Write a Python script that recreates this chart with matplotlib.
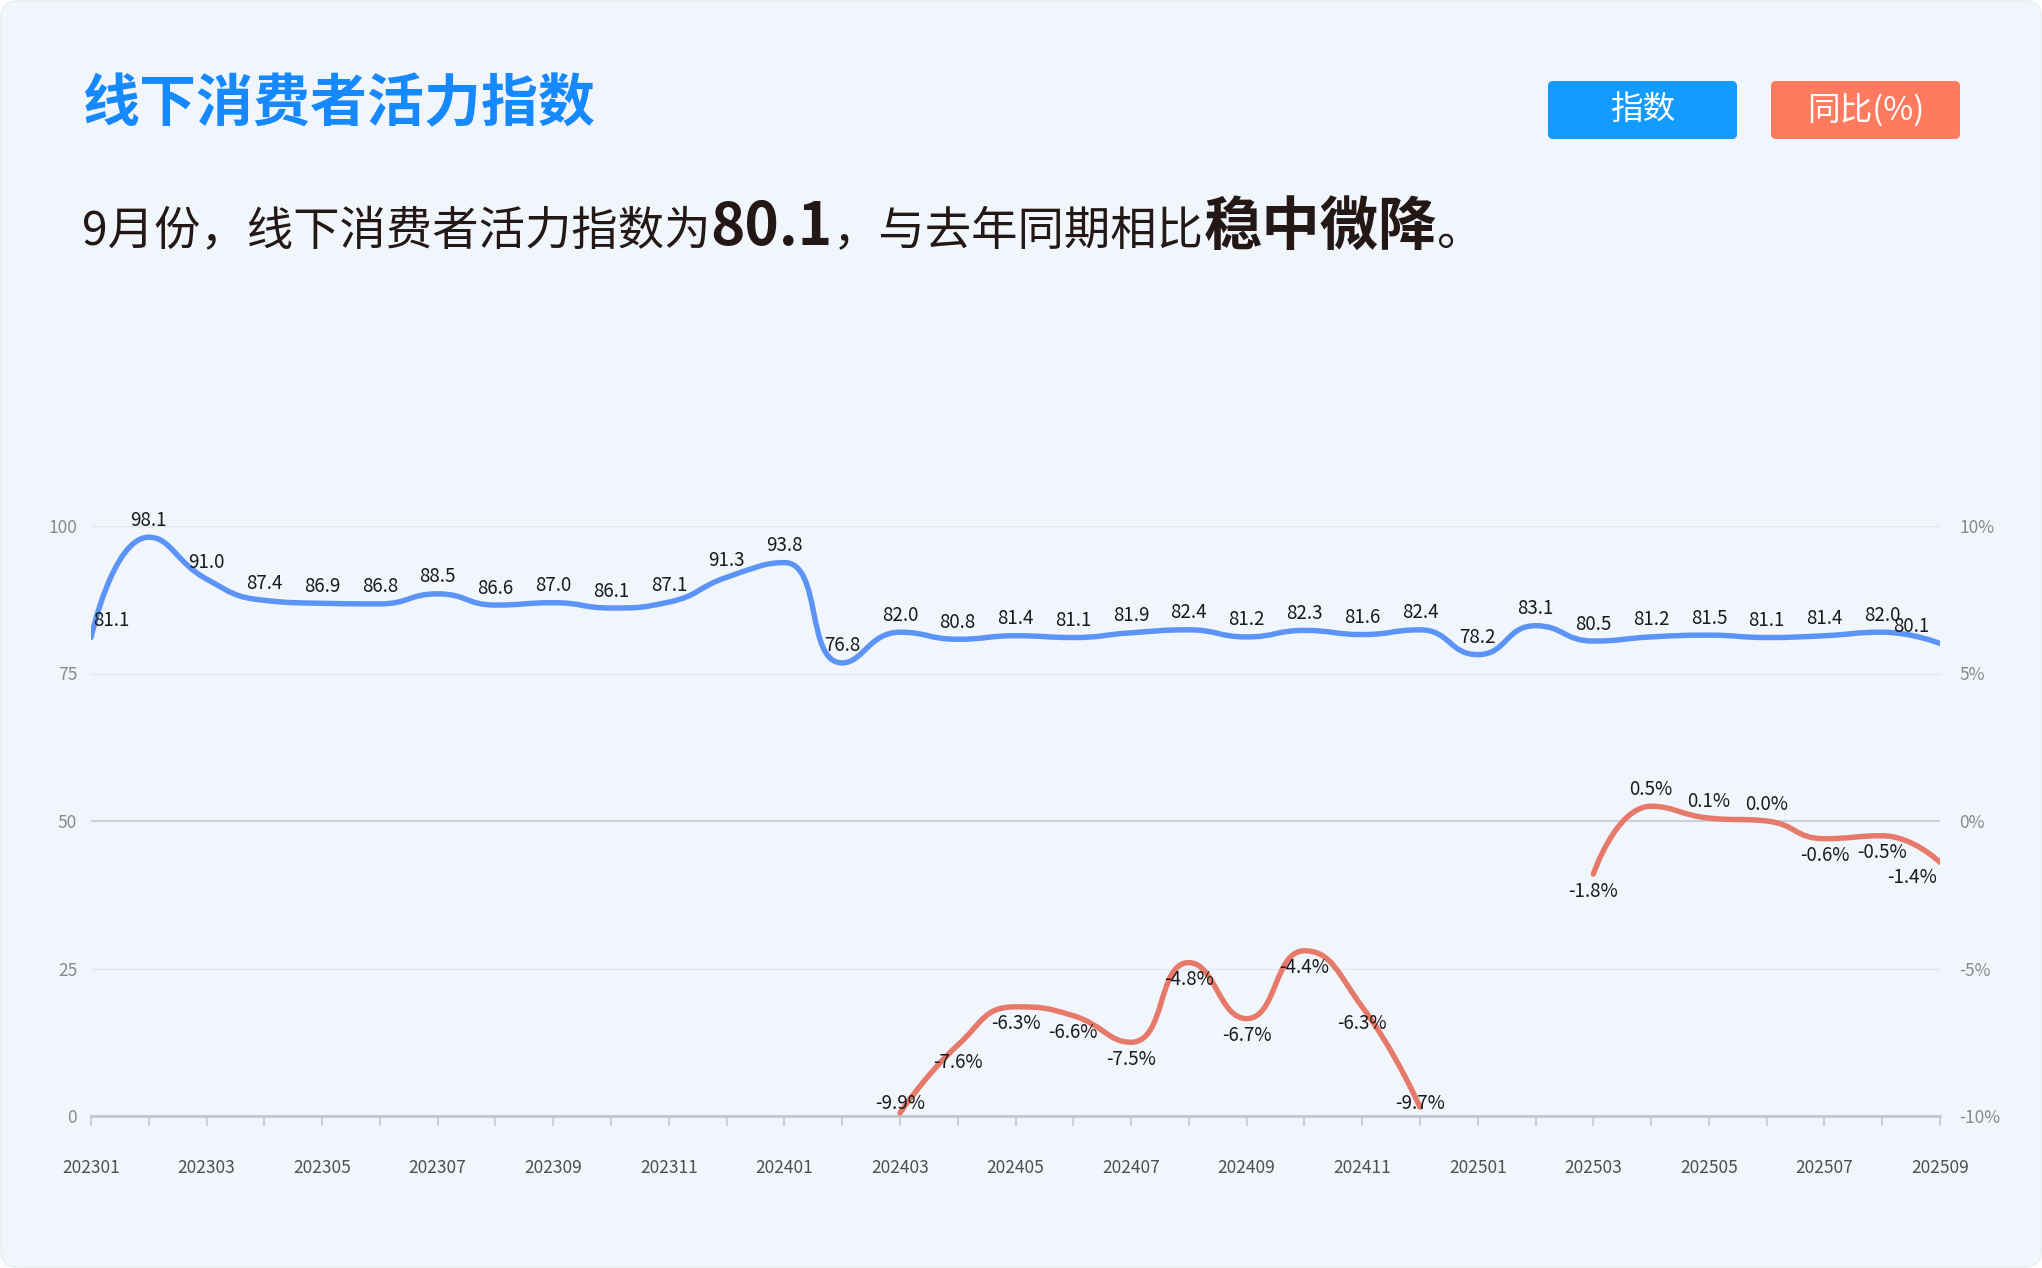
import numpy as np
import matplotlib
matplotlib.use("Agg")
import matplotlib.pyplot as plt
from matplotlib.path import Path
from matplotlib.patches import PathPatch, FancyBboxPatch
from matplotlib.transforms import IdentityTransform

plt.rcParams['font.family'] = ['Noto Sans CJK SC', 'DejaVu Sans']

# ---- data ----
months = ["202301", "202302", "202303", "202304", "202305", "202306", "202307", "202308",
          "202309", "202310", "202311", "202312", "202401", "202402", "202403", "202404",
          "202405", "202406", "202407", "202408", "202409", "202410", "202411", "202412",
          "202501", "202502", "202503", "202504", "202505", "202506", "202507", "202508",
          "202509"]
index_vals = [81.1, 98.1, 91.0, 87.4, 86.9, 86.8, 88.5, 86.6, 87.0, 86.1, 87.1, 91.3,
              93.8, 76.8, 82.0, 80.8, 81.4, 81.1, 81.9, 82.4, 81.2, 82.3, 81.6, 82.4,
              78.2, 83.1, 80.5, 81.2, 81.5, 81.1, 81.4, 82.0, 80.1]
yoy_vals = [None] * 14 + [-9.9, -7.6, -6.3, -6.6, -7.5, -4.8, -6.7, -4.4, -6.3, -9.7,
                          None, None, -1.8, 0.5, 0.1, 0.0, -0.6, -0.5, -1.4]
left_ticks = [0, 25, 50, 75, 100]
right_ticks = ["-10%", "-5%", "0%", "5%", "10%"]

BLUE = "#5b93f6"
RED = "#e6796a"
W, H = 2042, 1268


def smooth_path(ax, xs, ys, smooth=0.5):
    # echarts-like smooth line, built in pixel space then mapped back to data
    p = ax.transData.transform(np.column_stack([xs, ys]))
    n = len(p)
    verts = [p[0]]
    codes = [Path.MOVETO]
    cp0 = p[0].copy()
    for i in range(1, n):
        cur = p[i]
        prev = p[i - 1]
        if i == n - 1:
            cp1 = cur.copy()
            ncp0 = cur.copy()
        else:
            nxt = p[i + 1]
            v = nxt - prev
            l0 = np.hypot(*(cur - prev))
            l1 = np.hypot(*(nxt - cur))
            ratio = l1 / (l0 + l1)
            ncp0 = cur + v * smooth * ratio
            ncp0 = np.clip(ncp0, np.minimum(cur, nxt), np.maximum(cur, nxt))
            v = ncp0 - cur
            cp1 = cur - v * l0 / l1
            cp1 = np.clip(cp1, np.minimum(prev, cur), np.maximum(prev, cur))
            v = cur - cp1
            ncp0 = cur + v * l1 / l0
        verts += [cp0, cp1, cur]
        codes += [Path.CURVE4] * 3
        cp0 = ncp0
    dverts = ax.transData.inverted().transform(np.array(verts))
    return Path(dverts, codes)


fig = plt.figure(figsize=(W / 100, H / 100), dpi=100, facecolor="white")
bg = FancyBboxPatch((1, 1), W - 2, H - 2, boxstyle="round,pad=0,rounding_size=16",
                    transform=IdentityTransform(), facecolor="#f1f5fc", edgecolor="#e8ecf3",
                    linewidth=1, zorder=-10)
fig.patches.append(bg)

ax = fig.add_axes([91 / W, 1 - 1116 / H, (1940 - 91) / W, (1116 - 526) / H])
ax.set_facecolor("none")
ax.set_xlim(0, len(months) - 1)
ax.set_ylim(0, 100)

for y in [25, 75, 100]:
    ax.axhline(y, color="#e4e7ee", lw=1, zorder=1)
ax.axhline(50, color="#cdd0d6", lw=1.5, zorder=1)

for s in ["top", "right", "left"]:
    ax.spines[s].set_visible(False)
ax.spines["bottom"].set_color("#c4c7cd")
ax.spines["bottom"].set_linewidth(2)

x = np.arange(len(months))
ax.set_xticks(x)
ax.set_xticklabels([m if i % 2 == 0 else "" for i, m in enumerate(months)])
ax.tick_params(axis="x", length=7, width=1.2, color="#c4c7cd", pad=24,
               labelsize=12.5, labelcolor="#4f4f4f")
ax.set_yticks(left_ticks)
ax.set_yticklabels([str(t) for t in left_ticks])
ax.tick_params(axis="y", length=0, pad=10, labelsize=12.5, labelcolor="#8a8a8a")

ax2 = ax.twinx()
ax2.set_ylim(0, 100)
ax2.set_yticks(left_ticks)
ax2.set_yticklabels(right_ticks)
ax2.tick_params(axis="y", length=0, pad=14, labelsize=12.5, labelcolor="#8a8a8a")
for s in ["top", "right", "left", "bottom"]:
    ax2.spines[s].set_visible(False)

# index line
ax.add_patch(PathPatch(smooth_path(ax, x, index_vals), fill=False, edgecolor=BLUE,
                       lw=3.9, capstyle="round", joinstyle="round", zorder=3))

# yoy line on right scale (-10..10 mapped to 0..100)
yoy_mapped = [None if v is None else 50 + v * 5 for v in yoy_vals]
seg = []
for i, v in enumerate(yoy_mapped + [None]):
    if v is None:
        if len(seg) > 1:
            sx = [s[0] for s in seg]
            sy = [s[1] for s in seg]
            ax.add_patch(PathPatch(smooth_path(ax, sx, sy), fill=False, edgecolor=RED,
                                   lw=3.9, capstyle="round", joinstyle="round", zorder=3))
        seg = []
    else:
        seg.append((i, v))

# labels
for i, v in enumerate(index_vals):
    off = (0, 17)
    if i == 0:
        off = (20, 17)
    if i == len(index_vals) - 1:
        off = (-29, 17)
    ax.annotate(f"{v:.1f}", (i, v), xytext=off, textcoords="offset pixels",
                ha="center", va="center", fontsize=13.5, color="#1a1a1a", zorder=5)

for i, v in enumerate(yoy_vals):
    if v is None:
        continue
    if v >= 0:
        off = (0, 17)
    elif v <= -9.5:
        # pushed inside the plot area, just above the axis
        off = (0, 10 - (v + 9.9) * 29.5)
    else:
        off = (0, -17)
    if i == len(yoy_vals) - 1:
        off = (-28, -15)
    ax.annotate(f"{v:.1f}%", (i, 50 + v * 5), xytext=off, textcoords="offset pixels",
                ha="center", va="center", fontsize=13.5, color="#1a1a1a", zorder=5)

# title
fig.text(83 / W, 1 - 121 / H, "线下消费者活力指数", fontsize=41, fontweight="bold",
         color="#1589fd", ha="left", va="baseline")

# subtitle with mixed styles
pieces = [("9月份，线下消费者活力指数为", 33.4, "medium"),
          ("80.1", 42, "bold"),
          ("，与去年同期相比", 33.4, "medium"),
          ("稳中微降", 42, "bold"),
          ("。", 33.4, "medium")]
renderer = fig.canvas.get_renderer()
xpos = 82
for txt, size, weight in pieces:
    t = fig.text(xpos / W, 1 - 245 / H, txt, fontsize=size, fontweight=weight,
                 color="#231815", ha="left", va="baseline")
    xpos += t.get_window_extent(renderer).width

# legend buttons
for x0, label, col in [(1548, "指数", "#139bff"), (1771, "同比(%)", "#ff7a5e")]:
    box = FancyBboxPatch((x0, H - 139), 189, 58, boxstyle="round,pad=0,rounding_size=5",
                         transform=IdentityTransform(), facecolor=col, edgecolor="none")
    fig.patches.append(box)
    fig.text((x0 + 94.5) / W, 1 - 110 / H, label, fontsize=23.5, color="white",
             fontweight="medium", ha="center", va="center")

fig.savefig("out.png", dpi=100, facecolor=fig.get_facecolor())
